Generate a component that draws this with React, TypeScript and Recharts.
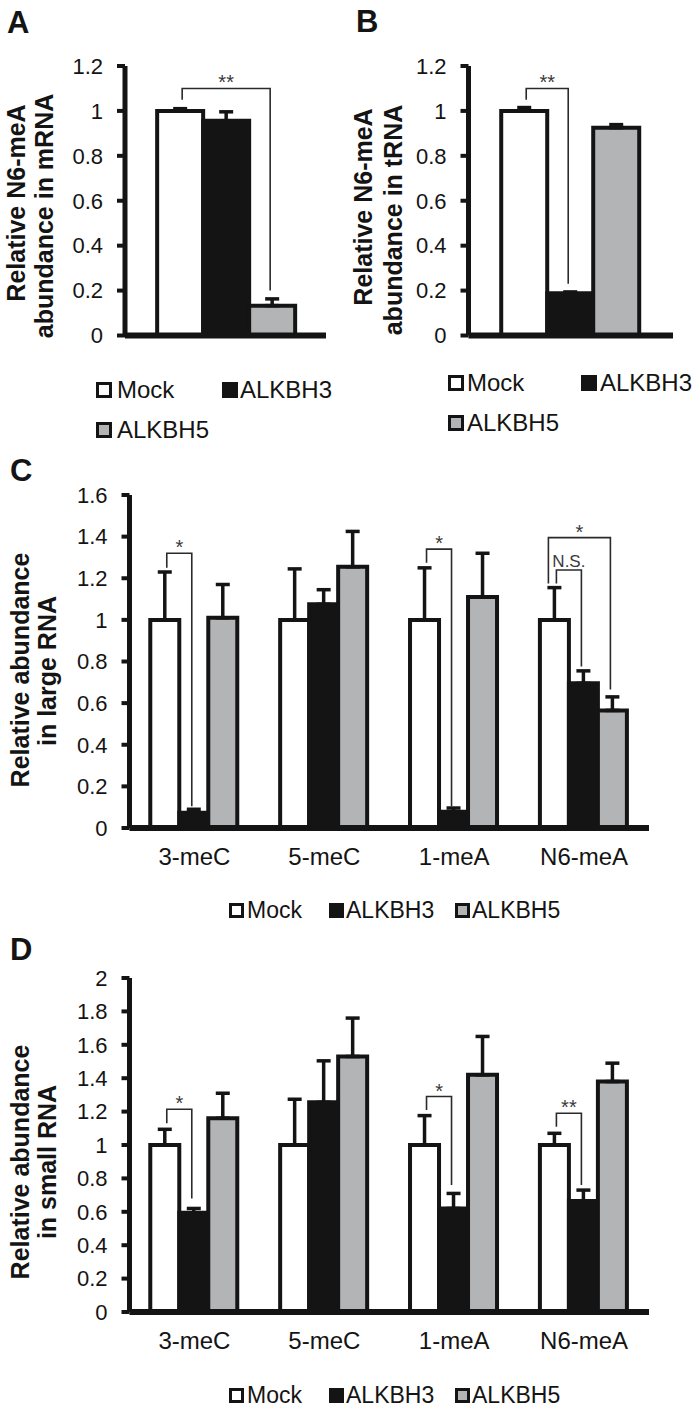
import React from 'react';
import { BarChart, Bar, XAxis, YAxis, ErrorBar, Rectangle } from 'recharts';

// ---- data ----
const seriesNames = ['Mock', 'ALKBH3', 'ALKBH5'];

// A: N6-meA in mRNA
const mrnaCats = ['mRNA'];
const mrnaMock = [1.0];
const mrnaMockErr = [0.01];
const mrnaAlkbh3 = [0.956];
const mrnaAlkbh3Err = [0.04];
const mrnaAlkbh5 = [0.133];
const mrnaAlkbh5Err = [0.03];

// B: N6-meA in tRNA
const trnaCats = ['tRNA'];
const trnaMock = [1.0];
const trnaMockErr = [0.015];
const trnaAlkbh3 = [0.188];
const trnaAlkbh3Err = [0.006];
const trnaAlkbh5 = [0.925];
const trnaAlkbh5Err = [0.014];

// C / D: nucleosides
const nucleosides = ['3-meC', '5-meC', '1-meA', 'N6-meA'];

const largeMock = [1, 1, 1, 1];
const largeMockErr = [0.23, 0.245, 0.25, 0.155];
const largeAlkbh3 = [0.073, 1.075, 0.078, 0.695];
const largeAlkbh3Err = [0.017, 0.07, 0.018, 0.06];
const largeAlkbh5 = [1.01, 1.255, 1.11, 0.565];
const largeAlkbh5Err = [0.16, 0.17, 0.21, 0.065];

const smallMock = [1, 1, 1, 1];
const smallMockErr = [0.094, 0.274, 0.176, 0.07];
const smallAlkbh3 = [0.594, 1.256, 0.62, 0.665];
const smallAlkbh3Err = [0.026, 0.248, 0.09, 0.065];
const smallAlkbh5 = [1.16, 1.53, 1.42, 1.38];
const smallAlkbh5Err = [0.15, 0.23, 0.23, 0.11];

const ticksA = [0, 0.2, 0.4, 0.6, 0.8, 1, 1.2];
const ticksC = [0, 0.2, 0.4, 0.6, 0.8, 1, 1.2, 1.4, 1.6];
const ticksD = [0, 0.2, 0.4, 0.6, 0.8, 1, 1.2, 1.4, 1.6, 1.8, 2];

// significance brackets: from Mock bar to series `to`, in data units
interface Bracket {
  cat: string;
  to: number;
  top: number;
  fromEnd: number;
  toEnd: number;
  label: string;
}

const mrnaBrackets: Bracket[] = [
  { cat: 'mRNA', to: 2, top: 1.1, fromEnd: 1.05, toEnd: 0.2, label: '**' },
];
const trnaBrackets: Bracket[] = [
  { cat: 'tRNA', to: 1, top: 1.1, fromEnd: 1.05, toEnd: 0.23, label: '**' },
];
const largeBrackets: Bracket[] = [
  { cat: '3-meC', to: 1, top: 1.32, fromEnd: 1.25, toEnd: 0.105, label: '*' },
  { cat: '1-meA', to: 1, top: 1.34, fromEnd: 1.275, toEnd: 0.105, label: '*' },
  { cat: 'N6-meA', to: 1, top: 1.24, fromEnd: 1.175, toEnd: 0.776, label: 'N.S.' },
  { cat: 'N6-meA', to: 2, top: 1.395, fromEnd: 1.175, toEnd: 0.666, label: '*' },
];
const smallBrackets: Bracket[] = [
  { cat: '3-meC', to: 1, top: 1.214, fromEnd: 1.13, toEnd: 0.68, label: '*' },
  { cat: '1-meA', to: 1, top: 1.29, fromEnd: 1.21, toEnd: 0.76, label: '*' },
  { cat: 'N6-meA', to: 1, top: 1.19, fromEnd: 1.11, toEnd: 0.76, label: '**' },
];

// ---- styling ----
const FONT = '"Liberation Sans", Arial, Helvetica, sans-serif';
const INK = '#141414';
const GREY = '#b3b4b6';
const fills = ['#ffffff', INK, GREY];
const BAR_STROKE = 4;

function buildRows(
  cats: string[],
  m: number[], me: number[],
  a3: number[], a3e: number[],
  a5: number[], a5e: number[],
) {
  return cats.map((name, i) => ({
    name,
    mock: m[i],
    mockErr: [0, me[i]],
    alkbh3: a3[i],
    alkbh3Err: [0, a3e[i]],
    alkbh5: a5[i],
    alkbh5Err: [0, a5e[i]],
  }));
}

function plainShape(fill: string) {
  return (props: any) => (
    <Rectangle
      x={props.x}
      y={props.y}
      width={props.width}
      height={props.height}
      fill={fill}
      stroke={INK}
      strokeWidth={BAR_STROKE}
    />
  );
}

function makeMockShape(brackets: Bracket[]) {
  return (props: any) => {
    const { x, y, width, height, payload } = props;
    const ppu = height / payload.mock;
    const zeroY = y + height;
    const yOf = (v: number) => zeroY - v * ppu;
    const mine = brackets.filter((b) => b.cat === payload.name);
    const maxTop = Math.max(...mine.map((o) => o.top));
    return (
      <g>
        <Rectangle
          x={x}
          y={y}
          width={width}
          height={height}
          fill={fills[0]}
          stroke={INK}
          strokeWidth={BAR_STROKE}
        />
        {mine.map((b, i) => {
          const isOuter = mine.length > 1 && b.top === maxTop;
          const xL = x + width / 2 + (isOuter ? -6 : 2);
          const xR = x + width * (b.to + 0.5) - 2;
          const isText = b.label.indexOf('*') < 0;
          return (
            <g key={i}>
              <path
                d={`M${xL},${yOf(b.fromEnd)} V${yOf(b.top)} H${xR} V${yOf(b.toEnd)}`}
                fill="none"
                stroke="#2a2a2a"
                strokeWidth={1.6}
              />
              <text
                x={(xL + xR) / 2}
                y={yOf(b.top) + (isText ? -3 : 1)}
                textAnchor="middle"
                fontFamily={FONT}
                fontSize={isText ? 17 : 20}
                fill="#3a3a3a"
              >
                {b.label}
              </text>
            </g>
          );
        })}
      </g>
    );
  };
}

const YTick = (props: any) => (
  <text
    x={props.x}
    y={props.y}
    dy="0.355em"
    textAnchor="end"
    fontFamily={FONT}
    fontSize={22}
    fill={INK}
  >
    {props.payload.value}
  </text>
);

const XTick = (props: any) => (
  <text
    x={props.x}
    y={props.y}
    dy="0.71em"
    textAnchor="middle"
    fontFamily={FONT}
    fontSize={24}
    fill={INK}
  >
    {props.payload.value}
  </text>
);

interface PanelProps {
  rows: any[];
  left: number;
  top: number;
  width: number;
  height: number;
  marginTop: number;
  marginRight: number;
  yAxisWidth: number;
  xAxisHeight: number;
  domainMax: number;
  ticks: number[];
  brackets: Bracket[];
  catLabels: boolean;
}

function Panel(p: PanelProps) {
  return (
    <div style={{ position: 'absolute', left: p.left, top: p.top }}>
      <BarChart
        width={p.width}
        height={p.height}
        data={p.rows}
        margin={{ top: p.marginTop, right: p.marginRight, bottom: 0, left: 0 }}
        barGap={0}
        barCategoryGap="16%"
      >
        <XAxis
          dataKey="name"
          height={p.xAxisHeight}
          axisLine={{ stroke: INK, strokeWidth: 6 }}
          tickLine={false}
          tickSize={0}
          tickMargin={20}
          interval={0}
          tick={p.catLabels ? XTick : false}
        />
        <YAxis
          type="number"
          domain={[0, p.domainMax]}
          ticks={p.ticks}
          interval={0}
          width={p.yAxisWidth}
          axisLine={{ stroke: INK, strokeWidth: 5 }}
          tickLine={{ stroke: INK, strokeWidth: 4 }}
          tickSize={8}
          tickMargin={14}
          tick={YTick}
        />
        <Bar dataKey="mock" shape={makeMockShape(p.brackets)} isAnimationActive={false}>
          <ErrorBar dataKey="mockErr" direction="y" width={7} stroke={INK} strokeWidth={3.5} />
        </Bar>
        <Bar dataKey="alkbh3" shape={plainShape(fills[1])} isAnimationActive={false}>
          <ErrorBar dataKey="alkbh3Err" direction="y" width={7} stroke={INK} strokeWidth={3.5} />
        </Bar>
        <Bar dataKey="alkbh5" shape={plainShape(fills[2])} isAnimationActive={false}>
          <ErrorBar dataKey="alkbh5Err" direction="y" width={7} stroke={INK} strokeWidth={3.5} />
        </Bar>
      </BarChart>
    </div>
  );
}

function LegendItem({ x, y, size, tx, baseline, fontSize, idx }: any) {
  return (
    <g>
      <rect
        x={x + 1.5}
        y={y + 1.5}
        width={size - 3}
        height={size - 3}
        fill={fills[idx]}
        stroke={INK}
        strokeWidth={3}
      />
      <text x={tx} y={baseline} fontFamily={FONT} fontSize={fontSize} fill={INK}>
        {seriesNames[idx]}
      </text>
    </g>
  );
}

function AxisTitle({ lines }: { lines: { x: number; cy: number; text: string }[] }) {
  return (
    <g>
      {lines.map((l, i) => (
        <text
          key={i}
          transform={`translate(${l.x},${l.cy}) rotate(-90)`}
          textAnchor="middle"
          fontFamily={FONT}
          fontWeight="bold"
          fontSize={25}
          fill={INK}
        >
          {l.text}
        </text>
      ))}
    </g>
  );
}

export default function App() {
  const rowsA = buildRows(mrnaCats, mrnaMock, mrnaMockErr, mrnaAlkbh3, mrnaAlkbh3Err, mrnaAlkbh5, mrnaAlkbh5Err);
  const rowsB = buildRows(trnaCats, trnaMock, trnaMockErr, trnaAlkbh3, trnaAlkbh3Err, trnaAlkbh5, trnaAlkbh5Err);
  const rowsC = buildRows(nucleosides, largeMock, largeMockErr, largeAlkbh3, largeAlkbh3Err, largeAlkbh5, largeAlkbh5Err);
  const rowsD = buildRows(nucleosides, smallMock, smallMockErr, smallAlkbh3, smallAlkbh3Err, smallAlkbh5, smallAlkbh5Err);

  return (
    <div
      style={{
        position: 'absolute',
        left: 0,
        top: 0,
        width: 697,
        height: 1419,
        background: '#fff',
        overflow: 'hidden',
      }}
    >
      <Panel
        rows={rowsA} left={0} top={0} width={340} height={365}
        marginTop={66} marginRight={14} yAxisWidth={125} xAxisHeight={29.5}
        domainMax={1.2} ticks={ticksA} brackets={mrnaBrackets} catLabels={false}
      />
      <Panel
        rows={rowsB} left={340} top={0} width={357} height={365}
        marginTop={66} marginRight={24} yAxisWidth={128.5} xAxisHeight={29.5}
        domainMax={1.2} ticks={ticksA} brackets={trnaBrackets} catLabels={false}
      />
      <Panel
        rows={rowsC} left={0} top={450} width={697} height={438}
        marginTop={45} marginRight={48} yAxisWidth={129.5} xAxisHeight={60}
        domainMax={1.6} ticks={ticksC} brackets={largeBrackets} catLabels={true}
      />
      <Panel
        rows={rowsD} left={0} top={930} width={697} height={442}
        marginTop={48} marginRight={48} yAxisWidth={129.5} xAxisHeight={60}
        domainMax={2} ticks={ticksD} brackets={smallBrackets} catLabels={true}
      />

      <svg
        width={697}
        height={1419}
        style={{ position: 'absolute', left: 0, top: 0, pointerEvents: 'none' }}
      >
        {/* panel letters */}
        <g fontFamily={FONT} fontWeight="bold" fontSize={31} fill={INK}>
          <text x={7} y={33}>A</text>
          <text x={356} y={32}>B</text>
          <text x={10} y={481}>C</text>
          <text x={10} y={960}>D</text>
        </g>

        {/* axis titles */}
        <AxisTitle
          lines={[
            { x: 25, cy: 203, text: 'Relative N6-meA' },
            { x: 53, cy: 216, text: 'abundance in mRNA' },
          ]}
        />
        <AxisTitle
          lines={[
            { x: 372, cy: 207, text: 'Relative N6-meA' },
            { x: 402, cy: 220, text: 'abundance in tRNA' },
          ]}
        />
        <AxisTitle
          lines={[
            { x: 29, cy: 670, text: 'Relative abundance' },
            { x: 56, cy: 671, text: 'in large RNA' },
          ]}
        />
        <AxisTitle
          lines={[
            { x: 29, cy: 1162, text: 'Relative abundance' },
            { x: 56, cy: 1162, text: 'in small RNA' },
          ]}
        />

        {/* legends */}
        <LegendItem idx={0} x={96} y={382} size={16} tx={117} baseline={398} fontSize={24} />
        <LegendItem idx={1} x={222} y={382} size={16} tx={240} baseline={398} fontSize={24} />
        <LegendItem idx={2} x={96} y={422} size={16} tx={117} baseline={438} fontSize={24} />

        <LegendItem idx={0} x={448} y={375} size={16} tx={467} baseline={391} fontSize={24} />
        <LegendItem idx={1} x={581} y={375} size={16} tx={600} baseline={391} fontSize={24} />
        <LegendItem idx={2} x={448} y={415} size={16} tx={467} baseline={431} fontSize={24} />

        <LegendItem idx={0} x={229} y={903} size={15} tx={247} baseline={918} fontSize={23} />
        <LegendItem idx={1} x={329} y={903} size={15} tx={346} baseline={918} fontSize={23} />
        <LegendItem idx={2} x={455} y={903} size={15} tx={472} baseline={918} fontSize={23} />

        <LegendItem idx={0} x={229} y={1388} size={15} tx={247} baseline={1403} fontSize={23} />
        <LegendItem idx={1} x={329} y={1388} size={15} tx={346} baseline={1403} fontSize={23} />
        <LegendItem idx={2} x={455} y={1388} size={15} tx={472} baseline={1403} fontSize={23} />
      </svg>
    </div>
  );
}
